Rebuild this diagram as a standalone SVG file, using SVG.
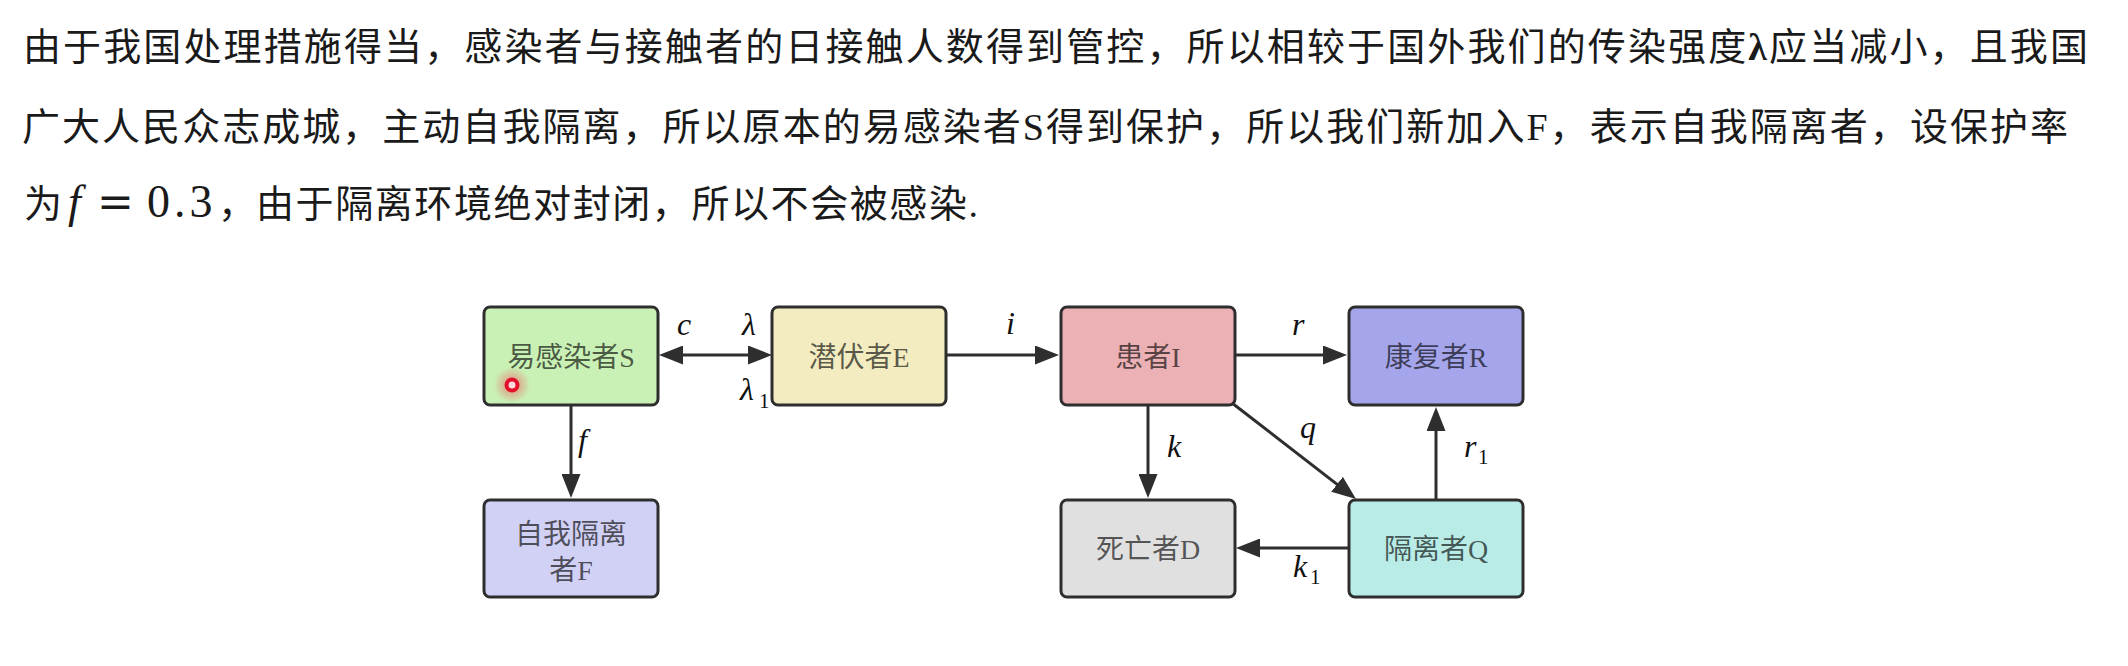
<svg xmlns="http://www.w3.org/2000/svg" width="2128" height="666" viewBox="0 0 2128 666">
  <defs>
    <style>
      .para { font-family: "Liberation Serif", "Noto Sans CJK SC", serif; font-size: 38px; fill: #1a1a1a; }
      .box { stroke: #2e2e2e; stroke-width: 3; }
      .lbl { font-family: "Liberation Serif", "Noto Sans CJK SC", serif; font-size: 28px; fill: #000; fill-opacity: 0.64; text-anchor: middle; }
      .edge { stroke: #2e2e2e; stroke-width: 3; fill: none; }
      .math { font-family: "Liberation Serif", "DejaVu Serif", serif; font-style: italic; font-size: 32px; fill: #111; }
      .sub { font-family: "Liberation Serif", "DejaVu Serif", serif; font-size: 21px; fill: #111; }
    </style>
    <marker id="arr" viewBox="0 0 24 19" refX="14" refY="9.5" markerWidth="24" markerHeight="19" markerUnits="userSpaceOnUse" orient="auto-start-reverse">
      <path d="M0,0 L24,9.5 L0,19 Z" fill="#2e2e2e"/>
    </marker>
    <radialGradient id="glow">
      <stop offset="0" stop-color="#ff3040" stop-opacity="0.55"/>
      <stop offset="1" stop-color="#ff3040" stop-opacity="0"/>
    </radialGradient>
  </defs>

  <rect width="2128" height="666" fill="#ffffff"/>

  <g id="paragraph">
    <text class="para" x="23" y="60" textLength="2065">由于我国处理措施得当，感染者与接触者的日接触人数得到管控，所以相较于国外我们的传染强度<tspan font-weight="bold">λ</tspan>应当减小，且我国</text>
    <text class="para" x="22" y="140" textLength="2046">广大人民众志成城，主动自我隔离，所以原本的易感染者S得到保护，所以我们新加入F，表示自我隔离者，设保护率</text>
    <text class="para" x="24" y="217">为</text>
    <text x="68" y="217" font-family="Liberation Serif, serif" font-style="italic" font-size="46" fill="#1a1a1a">f</text>
    <text x="97" y="217" font-family="DejaVu Serif, serif" font-size="44" fill="#1a1a1a">=</text>
    <text x="147" y="217" font-family="Liberation Serif, serif" font-size="46" letter-spacing="4" fill="#1a1a1a">0.3</text>
    <text class="para" x="218" y="217">，</text>
    <text class="para" x="256" y="217" textLength="722">由于隔离环境绝对封闭，所以不会被感染.</text>
  </g>

  <g id="node-S">
    <rect class="box" x="484" y="307" width="174" height="98" rx="6" fill="#c9f0b5"/>
    <text class="lbl" x="571" y="367">易感染者S</text>
  </g>
  <g id="node-E">
    <rect class="box" x="772" y="307" width="174" height="98" rx="6" fill="#f2ecc0"/>
    <text class="lbl" x="859" y="367">潜伏者E</text>
  </g>
  <g id="node-I">
    <rect class="box" x="1061" y="307" width="174" height="98" rx="6" fill="#ebb1b5"/>
    <text class="lbl" x="1148" y="367">患者I</text>
  </g>
  <g id="node-R">
    <rect class="box" x="1349" y="307" width="174" height="98" rx="6" fill="#a5a5eb"/>
    <text class="lbl" x="1436" y="367">康复者R</text>
  </g>
  <g id="node-F">
    <rect class="box" x="484" y="500" width="174" height="97" rx="6" fill="#d1d1f5"/>
    <text class="lbl" x="571" y="544">自我隔离</text>
    <text class="lbl" x="571" y="580">者F</text>
  </g>
  <g id="node-D">
    <rect class="box" x="1061" y="500" width="174" height="97" rx="6" fill="#e0e0e0"/>
    <text class="lbl" x="1148" y="559">死亡者D</text>
  </g>
  <g id="node-Q">
    <rect class="box" x="1349" y="500" width="174" height="97" rx="6" fill="#b9ece7"/>
    <text class="lbl" x="1436" y="559">隔离者Q</text>
  </g>

  <g id="connectors">
    <line class="edge" x1="669" y1="355" x2="762" y2="355" marker-start="url(#arr)" marker-end="url(#arr)"/>
    <line class="edge" x1="947" y1="355" x2="1049" y2="355" marker-end="url(#arr)"/>
    <line class="edge" x1="1236" y1="355" x2="1337" y2="355" marker-end="url(#arr)"/>
    <line class="edge" x1="571" y1="406" x2="571" y2="488" marker-end="url(#arr)"/>
    <line class="edge" x1="1148" y1="406" x2="1148" y2="488" marker-end="url(#arr)"/>
    <line class="edge" x1="1232" y1="403" x2="1348.1" y2="492.9" marker-end="url(#arr)"/>
    <line class="edge" x1="1436" y1="499" x2="1436" y2="417" marker-end="url(#arr)"/>
    <line class="edge" x1="1348" y1="548" x2="1246" y2="548" marker-end="url(#arr)"/>
  </g>

  <g id="edge-labels">
    <text class="math" x="677" y="335">c</text>
    <text class="math" x="742" y="335">λ</text>
    <text class="math" x="740" y="400">λ</text><text class="sub" x="759" y="408">1</text>
    <text class="math" x="1006" y="334">i</text>
    <text class="math" x="1292" y="335">r</text>
    <text class="math" x="578" y="451">f</text>
    <text class="math" x="1167" y="457">k</text>
    <text class="math" x="1300" y="438">q</text>
    <text class="math" x="1464" y="457">r</text><text class="sub" x="1478" y="464">1</text>
    <text class="math" x="1293" y="577">k</text><text class="sub" x="1310" y="584">1</text>
  </g>

  <g id="cursor">
    <circle cx="512" cy="385" r="18" fill="url(#glow)"/>
    <circle cx="512" cy="385" r="5.5" fill="#ffd8dc" stroke="#e3102c" stroke-width="4"/>
  </g>
</svg>
